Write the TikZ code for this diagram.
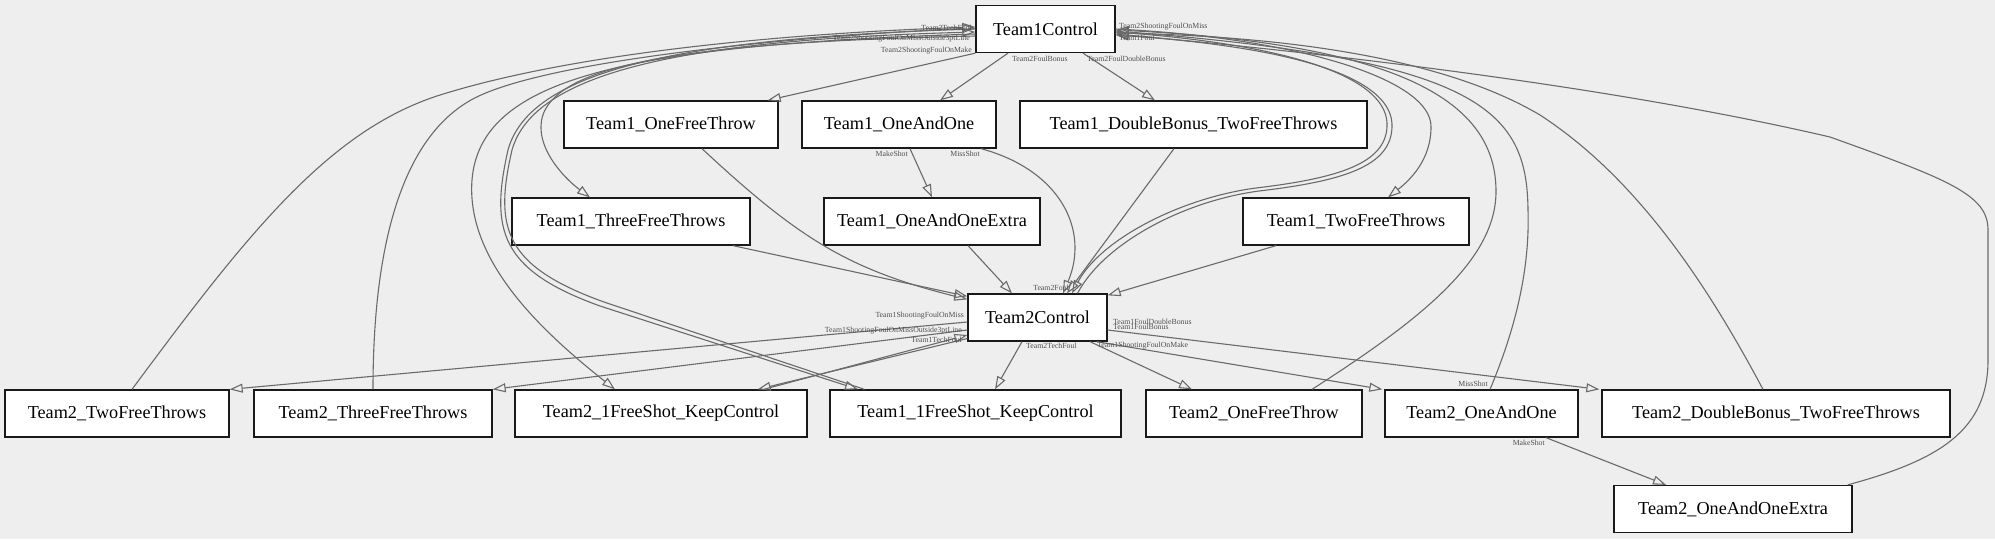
\documentclass[tikz,border=0pt]{standalone}
\usepackage{fontspec}
\setmainfont{Liberation Serif}
\usetikzlibrary{arrows.meta}
\definecolor{bg}{HTML}{EEEEEE}
\definecolor{ec}{HTML}{6A6A6A}
\definecolor{lc}{HTML}{505050}
\begin{document}
\begin{tikzpicture}[x=1pt,y=-1pt,
  box/.style={draw=black!90, line width=1.3pt, fill=white, minimum height=47pt, inner sep=0pt, font=\fontsize{18.2}{20}\selectfont},
  edge/.style={draw=ec, line width=1.1pt, -{Triangle[open,length=13pt,width=9pt]}},
  lbl/.style={text=lc, inner sep=0pt, font=\fontsize{7.8}{9}\selectfont}]
\fill[bg] (0,0) rectangle (1995,539);
\useasboundingbox (0,0) rectangle (1995,539);
% nodes
\node[box, minimum width=139pt] (T1C) at (1045.5,29) {Team1Control};
\node[box, minimum width=214pt] (T1_OFT) at (671,124.5) {Team1\_OneFreeThrow};
\node[box, minimum width=194pt] (T1_OAO) at (899,124.5) {Team1\_OneAndOne};
\node[box, minimum width=347pt] (T1_DB) at (1193.5,124.5) {Team1\_DoubleBonus\_TwoFreeThrows};
\node[box, minimum width=238pt] (T1_3FT) at (631,221.5) {Team1\_ThreeFreeThrows};
\node[box, minimum width=216pt] (T1_OAOE) at (932,221.5) {Team1\_OneAndOneExtra};
\node[box, minimum width=226pt] (T1_2FT) at (1356,221.5) {Team1\_TwoFreeThrows};
\node[box, minimum width=139pt] (T2C) at (1037.5,317.5) {Team2Control};
\node[box, minimum width=224pt] (T2_2FT) at (117,413.5) {Team2\_TwoFreeThrows};
\node[box, minimum width=238pt] (T2_3FT) at (373,413.5) {Team2\_ThreeFreeThrows};
\node[box, minimum width=292pt] (T2_1FS) at (661,413.5) {Team2\_1FreeShot\_KeepControl};
\node[box, minimum width=291pt] (T1_1FS) at (975.5,413.5) {Team1\_1FreeShot\_KeepControl};
\node[box, minimum width=216pt] (T2_OFT) at (1254,413.5) {Team2\_OneFreeThrow};
\node[box, minimum width=193pt] (T2_OAO) at (1481.5,413.5) {Team2\_OneAndOne};
\node[box, minimum width=348pt] (T2_DB) at (1776,413.5) {Team2\_DoubleBonus\_TwoFreeThrows};
\node[box, minimum width=238pt] (T2_OAOE) at (1733,509) {Team2\_OneAndOneExtra};
% edges from Team1Control
\draw[edge] (T1C.south west) -- ([xshift=-11pt]T1_OFT.north east);
\draw[edge] ([xshift=-37.5pt]T1C.south) -- ([xshift=41pt]T1_OAO.north);
\draw[edge] ([xshift=37.5pt]T1C.south) -- ([xshift=-38.5pt]T1_DB.north);
\draw[edge] ([yshift=-7pt]T1C.west) .. controls (700,42) and (570,62) .. (545,110) .. controls (530,140) and (560,175) .. ([xshift=-41pt]T1_3FT.north);
\draw[edge] (T1C.east) .. controls (1300,38) and (1432,80) .. (1431,127) .. controls (1431,160) and (1410,180) .. ([xshift=32pt]T1_2FT.north);
\draw[edge] ([yshift=-3pt]T1C.east) .. controls (1300,45) and (1390,80) .. (1387,127) .. controls (1385,163) and (1340,178) .. (1256,188) .. controls (1180,198) and (1100,240) .. ([xshift=34.5pt]T2C.north);
\draw[edge] ([xshift=40pt]T2C.north) .. controls (1104,243) and (1184,201) .. (1259,191) .. controls (1344,181) and (1391,166) .. (1392,127) .. controls (1394,80) and (1303,48) .. ([yshift=-6pt]T1C.east);
\draw[edge] (T1C.west) .. controls (680,38) and (530,70) .. (508,150) .. controls (490,230) and (500,270) .. (600,306) -- ([xshift=-117.5pt]T1_1FS.north);
\draw[edge] ([xshift=-111pt]T1_1FS.north) -- (604,302) .. controls (504,266) and (494,228) .. (512,150) .. controls (534,72) and (684,40) .. ([yshift=-3pt]T1C.west);
\draw[edge] ([yshift=-5pt]T1C.west) .. controls (620,45) and (480,80) .. (472,180) .. controls (466,260) and (540,330) .. ([xshift=-46pt]T2_1FS.north);
\draw[edge] ([xshift=15pt]T2_2FT.north) .. controls (250,230) and (330,130) .. (440,95) .. controls (600,45) and (850,31) .. ([yshift=2pt]T1C.west);
\draw[edge] (T2_3FT.north) .. controls (373,250) and (400,140) .. (471,100) .. controls (542,60) and (800,36) .. ([yshift=1pt]T1C.west);
% edges from Team2Control
\draw[edge] ([yshift=-4.5pt]T2C.west) -- (T2_2FT.north east);
\draw[edge] ([yshift=-12.5pt]T2C.west) -- (T2_3FT.north east);
\draw[edge] ([yshift=-21pt]T2C.west) -- ([xshift=-50pt]T2_1FS.north east);
\draw[edge] ([xshift=-44pt]T2_1FS.north east) -- ([yshift=-17.5pt]T2C.west);
\draw[edge] ([xshift=-15.5pt]T2C.south) -- ([xshift=19.5pt]T1_1FS.north);
\draw[edge] ([xshift=52.5pt]T2C.south) -- ([xshift=-62pt]T2_OFT.north);
\draw[edge] ([xshift=-11pt]T2C.south east) -- ([xshift=-2pt]T2_OAO.north west);
\draw[edge] ([yshift=-12.5pt]T2C.east) -- ([xshift=-2pt]T2_DB.north west);
% into Team2Control
\draw[edge] ([xshift=31pt]T1_OFT.south) .. controls (800,240) and (850,270) .. ([yshift=-6pt]T2C.north west);
\draw[edge] ([xshift=102pt]T1_3FT.south) -- ([yshift=-3pt]T2C.north west);
\draw[edge] ([xshift=11pt]T1_OAO.south) -- (T1_OAOE.north);
\draw[edge] ([xshift=82pt]T1_OAO.south) .. controls (1060,170) and (1090,230) .. ([xshift=25.5pt]T2C.north);
\draw[edge] ([xshift=-19.5pt]T1_DB.south) -- ([xshift=29.5pt]T2C.north);
\draw[edge] ([xshift=36pt]T1_OAOE.south) -- ([xshift=-25.5pt]T2C.north);
\draw[edge] ([xshift=-80pt]T1_2FT.south) -- ([yshift=-2pt]T2C.north east);
% into Team1Control from right
\draw[edge] ([xshift=58pt]T2_OFT.north) .. controls (1420,320) and (1497,260) .. (1496,190) .. controls (1495,110) and (1420,45) .. ([yshift=-1pt]T1C.east);
\draw[edge] ([xshift=8.5pt]T2_OAO.north) .. controls (1515,330) and (1530,270) .. (1528,210) .. controls (1527,110) and (1480,60) .. ([yshift=-2pt]T1C.east);
\draw[edge] ([xshift=-13pt]T2_DB.north) .. controls (1710,290) and (1640,180) .. (1540,115) .. controls (1430,50) and (1250,36) .. ([yshift=-4pt]T1C.east);
\draw[edge] ([xshift=-5pt]T2_OAOE.north east) .. controls (1940,460) and (1988,430) .. (1988,360) -- (1988,230) .. controls (1988,195) and (1950,180) .. (1830,137) .. controls (1650,95) and (1400,60) .. ([yshift=-5pt]T1C.east);
\draw[edge] ([xshift=64.5pt]T2_OAO.south) -- ([xshift=-67pt]T2_OAOE.north);
% labels
\node[lbl, anchor=east] (l1) at (972,28) {Team2TechFoul};
\node[lbl, anchor=east] (l2) at (970,39) {Team2ShootingFoulOnMissOutside3ptLine};
\node[lbl, anchor=east] (l3) at (972,51) {Team2ShootingFoulOnMake};
\node[lbl, anchor=west] (l4) at (1012,59) {Team2FoulBonus};
\node[lbl, anchor=west] (l5) at (1087,59) {Team2FoulDoubleBonus};
\node[lbl, anchor=west] (l6) at (1119,27) {Team2ShootingFoulOnMiss};
\node[lbl, anchor=west] (l7) at (1119,38) {Team1Foul};
\node[lbl, anchor=east] (l8) at (908,154) {MakeShot};
\node[lbl, anchor=east] (l9) at (980,154) {MissShot};
\node[lbl] (l10) at (1051,288) {Team2Foul};
\node[lbl, anchor=east] (l11) at (964,316) {Team1ShootingFoulOnMiss};
\node[lbl, anchor=east] (l12) at (962,331) {Team1ShootingFoulOnMissOutside3ptLine};
\node[lbl, anchor=east] (l13) at (962,340) {Team1TechFoul};
\node[lbl, anchor=west] (l14) at (1026,346) {Team2TechFoul};
\node[lbl, anchor=west] (l15) at (1097,346) {Team1ShootingFoulOnMake};
\node[lbl, anchor=west] (l16) at (1113,322) {Team1FoulDoubleBonus};
\node[lbl, anchor=west] (l17) at (1113,327) {Team1FoulBonus};
\node[lbl, anchor=east] (l18) at (1488,384) {MissShot};
\node[lbl, anchor=east] (l19) at (1545,443) {MakeShot};
\end{tikzpicture}
\end{document}
